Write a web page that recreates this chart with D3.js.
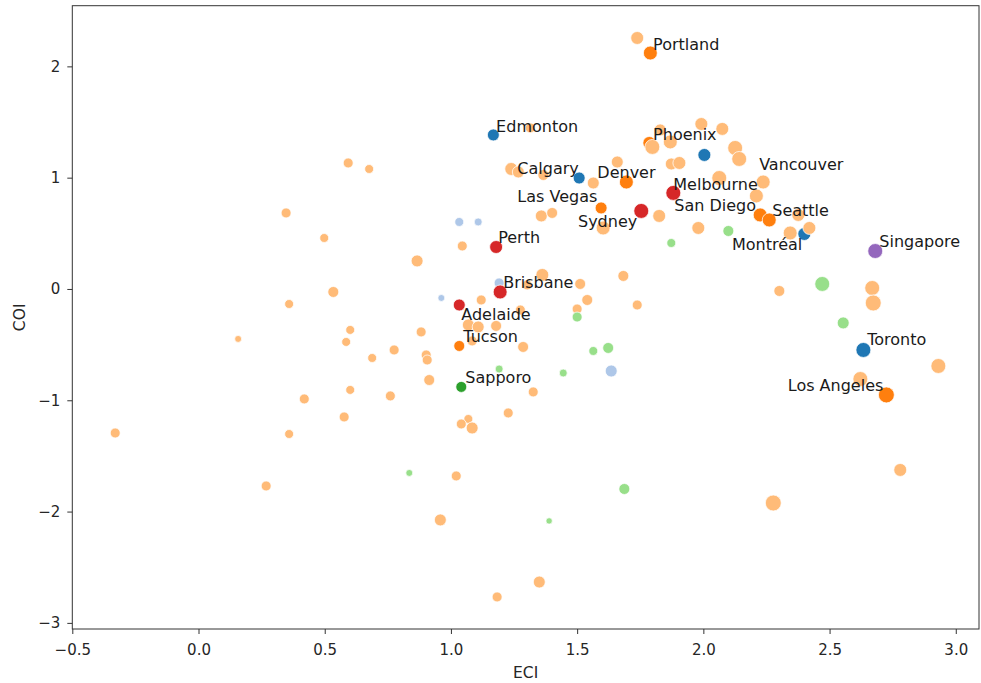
<!DOCTYPE html>
<html>
<head>
<meta charset="utf-8">
<script src="https://cdn.jsdelivr.net/npm/d3@7"></script>
<style>
  html, body { margin: 0; padding: 0; background: #fff; }
  svg { display: block; font-family: "DejaVu Sans", sans-serif; }
</style>
</head>
<body>
<div id="chart"></div>
<script>
// [ECI, COI, size] per city, one array per group
const canadaOther = [
  [1.033, 0.602, 3.3], [1.108, 0.602, 2.4], [1.191, 0.054, 4.2],
  [0.962, -0.081, 1.5], [1.635, -0.737, 6.0]
];
const canada = [
  [1.168, 1.384, 6.0], [1.508, 0.997, 6.0], [2.004, 1.204, 6.9],
  [2.400, 0.494, 6.9], [2.634, -0.548, 8.7]
];
const usa = [
  [1.790, 2.120, 7.8], [1.786, 1.312, 6.9], [1.695, 0.961, 7.8],
  [1.595, 0.728, 6.0], [2.225, 0.665, 7.8], [2.261, 0.620, 7.8],
  [1.033, -0.512, 5.1], [2.725, -0.952, 9.6]
];
const usaOther = [
  [1.738, 2.255, 6.9], [1.314, 1.447, 4.2], [0.593, 1.132, 4.2], [0.676, 1.078, 3.3],
  [1.239, 1.078, 6.9], [1.267, 1.051, 6.0], [1.366, 1.024, 5.1], [1.564, 0.952, 6.0],
  [1.659, 1.141, 6.0], [1.829, 1.429, 6.0], [1.798, 1.276, 8.7], [1.869, 1.321, 7.8],
  [1.992, 1.482, 6.9], [2.075, 1.438, 6.9], [2.126, 1.267, 8.7], [2.142, 1.168, 8.7],
  [1.873, 1.123, 6.0], [1.905, 1.132, 6.9], [2.063, 0.997, 8.7], [2.237, 0.961, 7.8],
  [2.210, 0.836, 7.8], [1.825, 0.656, 6.9], [1.358, 0.656, 6.0], [1.401, 0.683, 5.1],
  [1.603, 0.548, 7.8], [1.980, 0.548, 6.9], [2.376, 0.665, 6.9], [2.344, 0.503, 7.8],
  [2.420, 0.548, 6.9], [0.347, 0.683, 4.2], [0.498, 0.458, 3.3], [1.045, 0.386, 4.2],
  [0.866, 0.252, 6.0], [0.534, -0.027, 5.1], [0.359, -0.135, 3.3], [0.157, -0.449, 1.5],
  [1.362, 0.126, 6.9], [1.683, 0.117, 5.1], [1.512, 0.045, 5.1], [1.302, 0.036, 4.2],
  [1.540, -0.099, 5.1], [1.500, -0.180, 4.2], [1.738, -0.144, 4.2], [1.120, -0.099, 4.2],
  [1.275, -0.189, 4.2], [1.069, -0.323, 6.0], [1.108, -0.341, 6.0], [1.179, -0.332, 5.1],
  [1.084, -0.467, 4.2], [1.286, -0.521, 5.1], [0.882, -0.386, 4.2], [0.902, -0.593, 4.2],
  [0.906, -0.638, 4.2], [0.914, -0.818, 5.1], [0.601, -0.368, 3.3], [0.585, -0.476, 3.3],
  [0.775, -0.548, 4.2], [0.688, -0.620, 3.3], [0.601, -0.907, 3.3], [0.760, -0.961, 4.2],
  [0.419, -0.988, 4.2], [0.577, -1.150, 4.2], [0.359, -1.303, 3.3], [-0.330, -1.294, 4.2],
  [0.268, -1.770, 4.2], [1.326, -0.925, 4.2], [1.227, -1.114, 4.2], [1.069, -1.168, 3.3],
  [1.041, -1.213, 4.2], [1.084, -1.249, 6.0], [1.021, -1.680, 4.2], [0.958, -2.075, 6.0],
  [1.350, -2.633, 6.0], [1.183, -2.767, 4.2], [2.301, -0.018, 5.1], [2.669, 0.009, 8.7],
  [2.673, -0.126, 9.6], [2.931, -0.692, 8.7], [2.622, -0.809, 8.7], [2.780, -1.626, 6.9],
  [2.277, -1.923, 9.6]
];
const australia = [
  [1.179, 0.377, 6.9], [1.195, -0.027, 7.8], [1.033, -0.144, 6.0],
  [1.754, 0.701, 8.7], [1.881, 0.863, 8.7]
];
const japan = [
  [1.041, -0.880, 5.1]
];
const japanOther = [
  [1.500, -0.252, 4.2], [1.564, -0.557, 3.3], [1.623, -0.530, 5.1], [1.191, -0.719, 2.4],
  [1.445, -0.755, 2.4], [0.835, -1.653, 1.5], [1.687, -1.797, 5.1], [1.389, -2.084, 1.0],
  [1.873, 0.413, 3.3], [2.099, 0.521, 5.1], [2.471, 0.045, 8.7], [2.554, -0.305, 6.0]
];
const singapore = [
  [2.681, 0.341, 8.7]
];

// city labels: name, ECI, COI of the text anchor
const labelNames = ["Portland", "Edmonton", "Calgary", "Denver", "Las Vegas", "Sydney",
  "Phoenix", "Melbourne", "San Diego", "Vancouver", "Seattle", "Montréal", "Singapore",
  "Perth", "Brisbane", "Adelaide", "Tucson", "Sapporo", "Toronto", "Los Angeles"];
const labelEci = [1.801, 1.179, 1.263, 1.580, 1.263, 1.738, 1.801, 1.881, 1.885, 2.221,
  2.273, 2.392, 2.697, 1.187, 1.207, 1.041, 1.049, 1.057, 2.649, 2.713];
const labelCoi = [2.147, 1.411, 1.033, 0.997, 0.782, 0.557, 1.339, 0.889, 0.701, 1.069,
  0.656, 0.350, 0.377, 0.413, 0.009, -0.279, -0.476, -0.845, -0.503, -0.916];
const rightAligned = new Set(["Sydney", "Montréal", "Los Angeles"]);

const xTicks = [-0.5, 0.0, 0.5, 1.0, 1.5, 2.0, 2.5, 3.0];
const yTicks = [-3, -2, -1, 0, 1, 2];

// draw order matters for overlaps
const layers = [
  { data: canadaOther, color: "#aec7e8" },
  { data: canada, color: "#1f77b4" },
  { data: usa, color: "#ff7f0e" },
  { data: usaOther, color: "#ffbb78" },
  { data: australia, color: "#d62728" },
  { data: japan, color: "#2ca02c" },
  { data: japanOther, color: "#98df8a" },
  { data: singapore, color: "#9467bd" }
];

const W = 981, H = 683;
const plot = { left: 72.3, right: 979, top: 5.7, bottom: 629 };

const svg = d3.select("#chart").append("svg")
  .attr("width", W).attr("height", H);
svg.append("rect").attr("width", W).attr("height", H).attr("fill", "#fff");

const x = d3.scaleLinear().domain([-0.5, 3.092]).range([plot.left, plot.right]);
const y = d3.scaleLinear().domain([-3.055, 2.545]).range([plot.bottom, plot.top]);
const r = d3.scaleLinear().domain([1, 10]).range([3.2, 8.2]);

const pts = svg.append("g");
layers.forEach(layer => {
  pts.selectAll(null)
    .data(layer.data)
    .join("circle")
      .attr("cx", d => x(d[0]))
      .attr("cy", d => y(d[1]))
      .attr("r", d => r(d[2]))
      .attr("fill", layer.color)
      .attr("stroke", "#fff")
      .attr("stroke-width", 0.75);
});

// labels
svg.append("g").selectAll("text")
  .data(labelNames)
  .join("text")
    .attr("x", (d, i) => x(labelEci[i]))
    .attr("y", (d, i) => y(labelCoi[i]))
    .attr("text-anchor", d => rightAligned.has(d) ? "end" : "start")
    .style("font-size", "16px")
    .style("fill", "#1a1a1a")
    .text(d => d);

// axes
const xAxis = svg.append("g")
  .attr("transform", `translate(0,${plot.bottom})`)
  .call(d3.axisBottom(x).tickValues(xTicks).tickFormat(d3.format(".1f"))
    .tickSize(5).tickPadding(10).tickSizeOuter(0));
const yAxis = svg.append("g")
  .attr("transform", `translate(${plot.left},0)`)
  .call(d3.axisLeft(y).tickValues(yTicks).tickFormat(d3.format("d"))
    .tickSize(5).tickPadding(7).tickSizeOuter(0));

[xAxis, yAxis].forEach(g => {
  g.select(".domain").remove();
  g.selectAll("line").attr("stroke", "#333").attr("stroke-width", 1);
  g.selectAll("text").style("font-size", "15px").style("fill", "#262626")
    .style("font-family", "DejaVu Sans, sans-serif");
});

// frame
svg.append("rect")
  .attr("x", plot.left).attr("y", plot.top)
  .attr("width", plot.right - plot.left).attr("height", plot.bottom - plot.top)
  .attr("fill", "none").attr("stroke", "#333").attr("stroke-width", 1);

svg.append("text")
  .attr("x", (plot.left + plot.right) / 2).attr("y", 678)
  .attr("text-anchor", "middle")
  .style("font-size", "15.5px").style("fill", "#262626")
  .text("ECI");

svg.append("text")
  .attr("transform", `translate(25,${(plot.top + plot.bottom) / 2}) rotate(-90)`)
  .attr("text-anchor", "middle")
  .style("font-size", "15.5px").style("fill", "#262626")
  .text("COI");
</script>
</body>
</html>
